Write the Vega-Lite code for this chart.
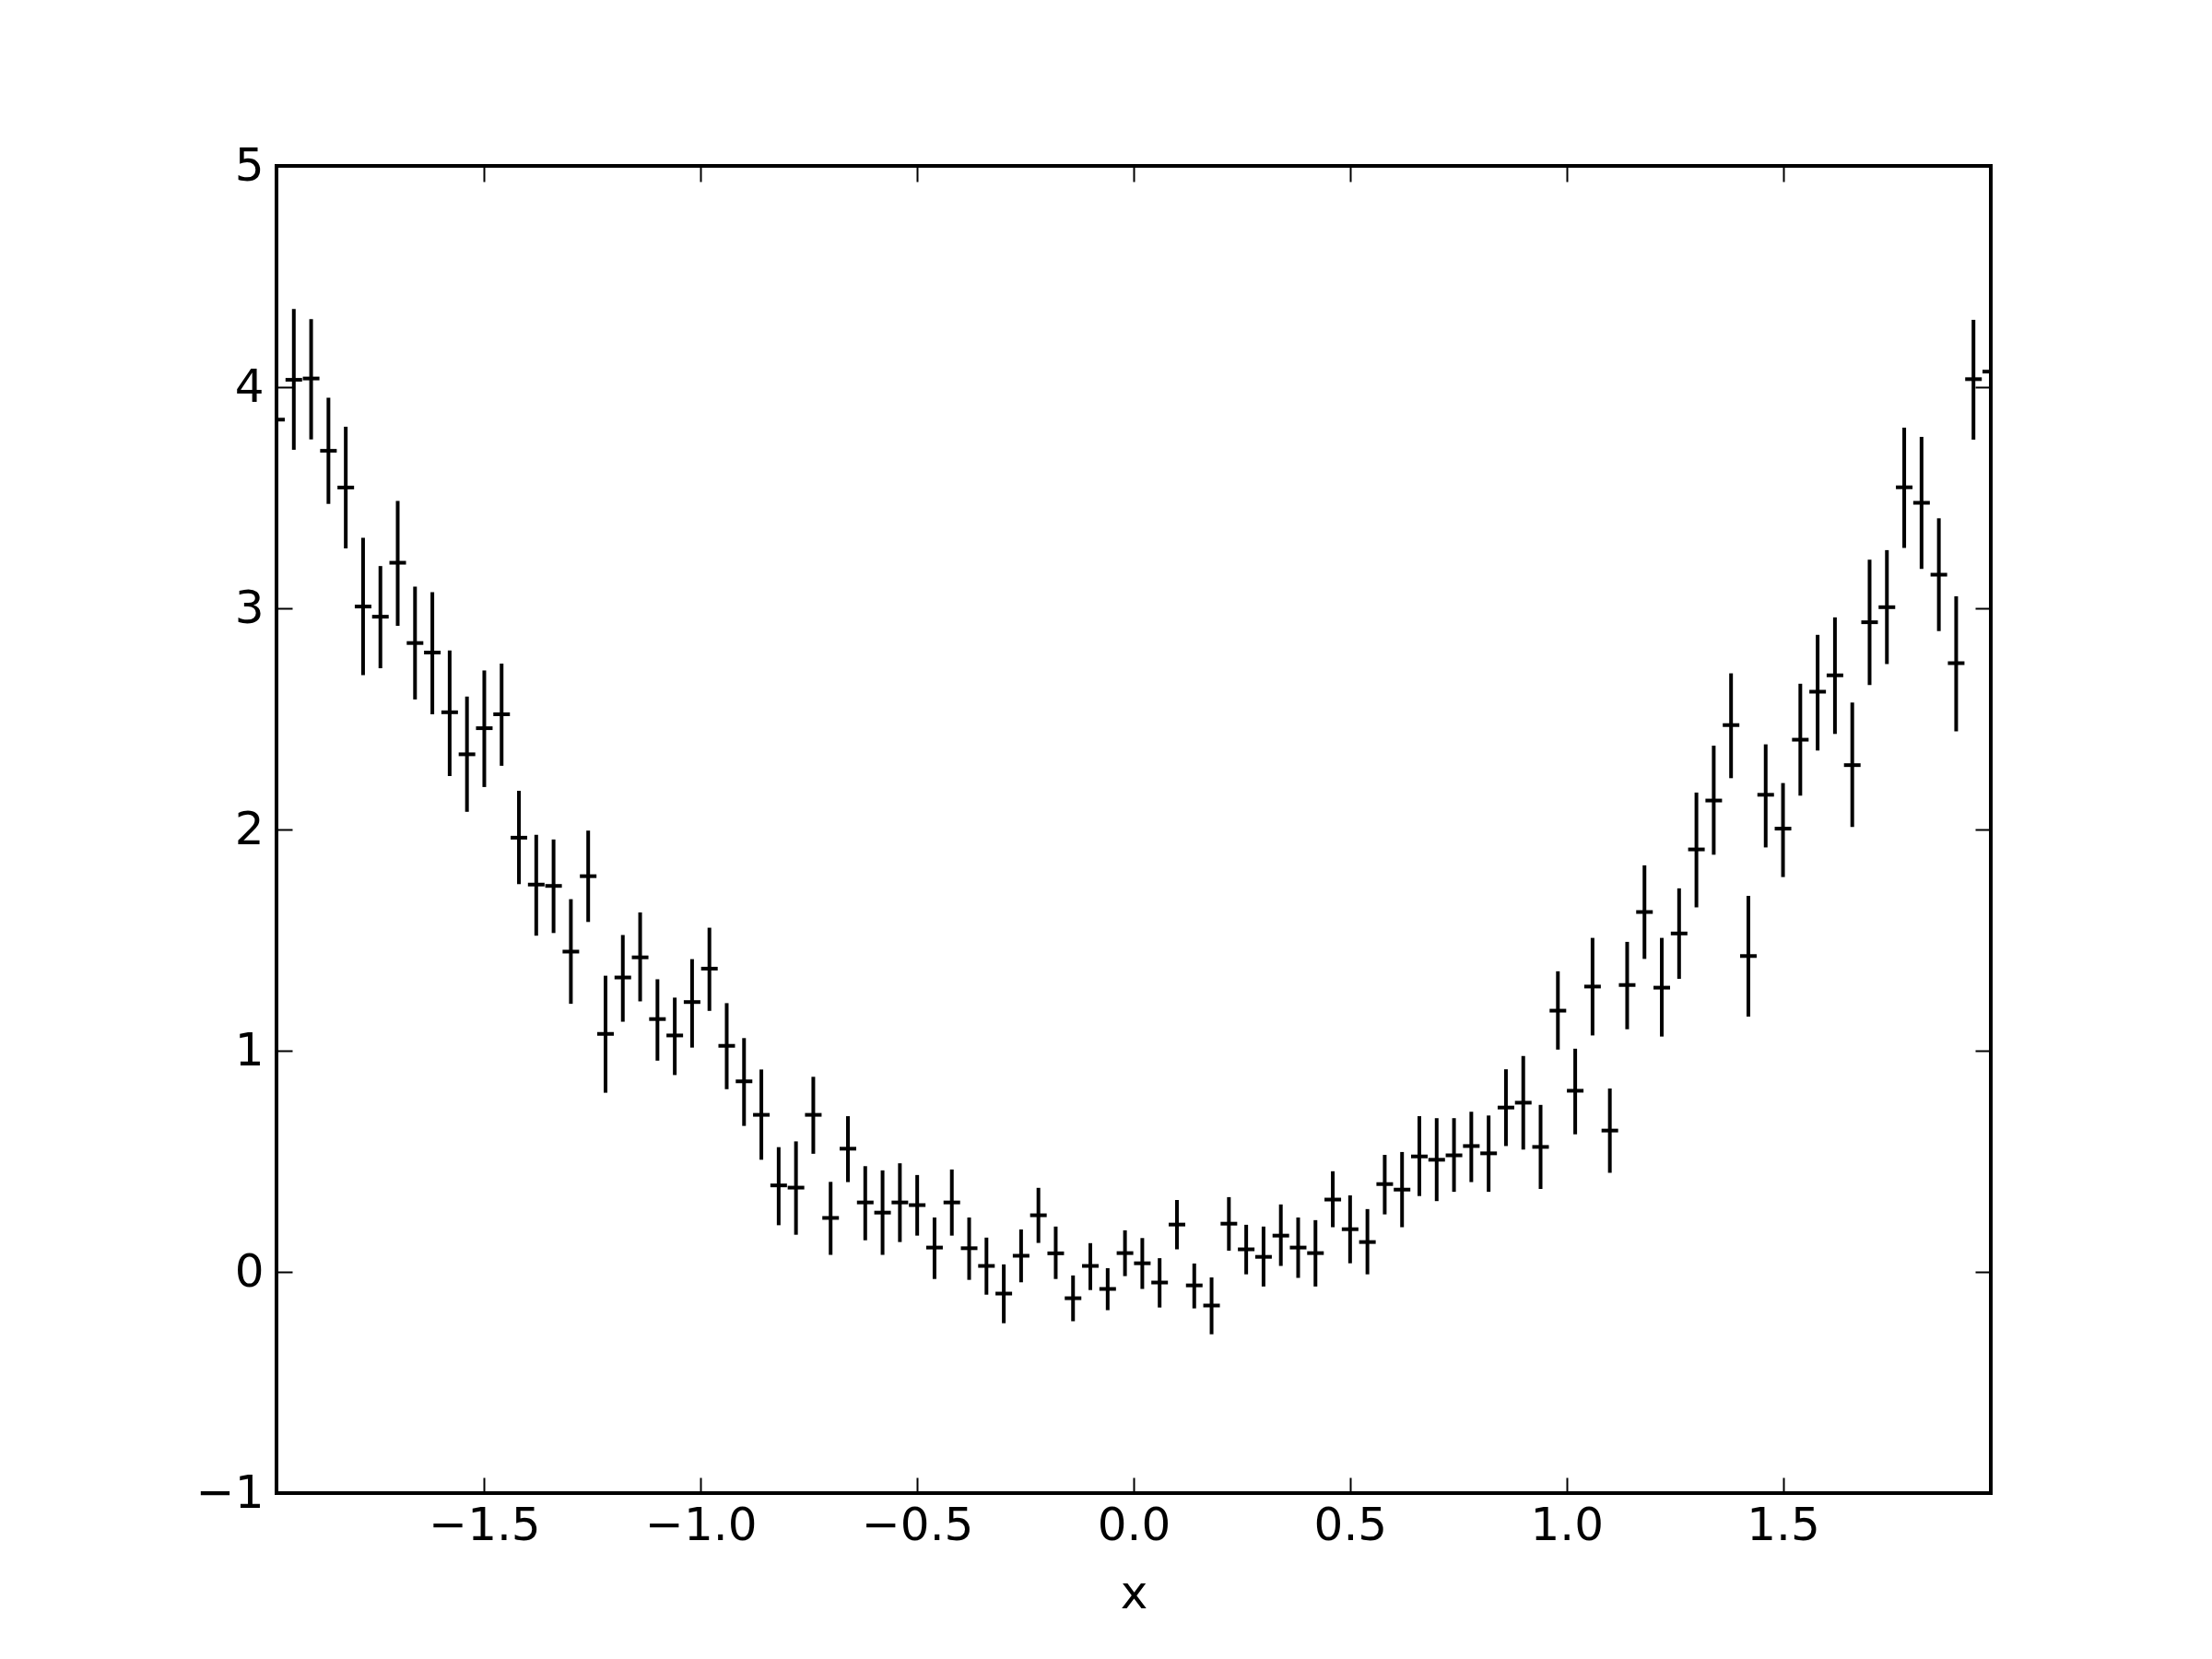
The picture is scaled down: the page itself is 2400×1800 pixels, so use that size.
{
  "$schema": "https://vega.github.io/schema/vega-lite/v6.json",
  "width": 1860,
  "height": 1440,
  "autosize": {"type": "none"},
  "padding": {"left": 300, "top": 180, "right": 240, "bottom": 180},
  "background": "white",
  "config": {
    "view": {"stroke": "black", "strokeWidth": 4},
    "axis": {"labelFont": "DejaVu Sans", "labelFontSize": 50, "labelColor": "black", "titleFont": "DejaVu Sans", "titleFontSize": 50, "titleFontWeight": "normal", "titleColor": "black", "domain": false, "grid": false, "tickColor": "black", "tickWidth": 2, "tickSize": -17}
  },
  "data": {"values": [
    {"x": -1.98, "y": 3.853, "lo": 3.55, "hi": 4.15},
    {"x": -1.94, "y": 4.033, "lo": 3.717, "hi": 4.353},
    {"x": -1.90, "y": 4.039, "lo": 3.764, "hi": 4.307},
    {"x": -1.86, "y": 3.712, "lo": 3.472, "hi": 3.952},
    {"x": -1.82, "y": 3.546, "lo": 3.271, "hi": 3.821},
    {"x": -1.78, "y": 3.008, "lo": 2.698, "hi": 3.319},
    {"x": -1.74, "y": 2.962, "lo": 2.729, "hi": 3.191},
    {"x": -1.70, "y": 3.206, "lo": 2.921, "hi": 3.485},
    {"x": -1.66, "y": 2.843, "lo": 2.588, "hi": 3.098},
    {"x": -1.62, "y": 2.800, "lo": 2.521, "hi": 3.073},
    {"x": -1.58, "y": 2.530, "lo": 2.242, "hi": 2.809},
    {"x": -1.54, "y": 2.340, "lo": 2.080, "hi": 2.601},
    {"x": -1.50, "y": 2.458, "lo": 2.192, "hi": 2.719},
    {"x": -1.46, "y": 2.521, "lo": 2.288, "hi": 2.750},
    {"x": -1.42, "y": 1.963, "lo": 1.753, "hi": 2.175},
    {"x": -1.38, "y": 1.751, "lo": 1.520, "hi": 1.976},
    {"x": -1.34, "y": 1.745, "lo": 1.532, "hi": 1.955},
    {"x": -1.30, "y": 1.448, "lo": 1.212, "hi": 1.685},
    {"x": -1.26, "y": 1.789, "lo": 1.582, "hi": 1.995},
    {"x": -1.22, "y": 1.076, "lo": 0.810, "hi": 1.339},
    {"x": -1.18, "y": 1.331, "lo": 1.131, "hi": 1.523},
    {"x": -1.14, "y": 1.422, "lo": 1.223, "hi": 1.625},
    {"x": -1.10, "y": 1.143, "lo": 0.955, "hi": 1.323},
    {"x": -1.06, "y": 1.069, "lo": 0.890, "hi": 1.240},
    {"x": -1.02, "y": 1.220, "lo": 1.014, "hi": 1.414},
    {"x": -0.98, "y": 1.371, "lo": 1.180, "hi": 1.556},
    {"x": -0.94, "y": 1.022, "lo": 0.826, "hi": 1.215},
    {"x": -0.90, "y": 0.861, "lo": 0.660, "hi": 1.057},
    {"x": -0.86, "y": 0.710, "lo": 0.507, "hi": 0.915},
    {"x": -0.82, "y": 0.391, "lo": 0.211, "hi": 0.564},
    {"x": -0.78, "y": 0.381, "lo": 0.168, "hi": 0.590},
    {"x": -0.74, "y": 0.710, "lo": 0.534, "hi": 0.882},
    {"x": -0.70, "y": 0.244, "lo": 0.077, "hi": 0.407},
    {"x": -0.66, "y": 0.557, "lo": 0.406, "hi": 0.704},
    {"x": -0.62, "y": 0.314, "lo": 0.143, "hi": 0.478},
    {"x": -0.58, "y": 0.268, "lo": 0.077, "hi": 0.459},
    {"x": -0.54, "y": 0.314, "lo": 0.135, "hi": 0.491},
    {"x": -0.50, "y": 0.302, "lo": 0.164, "hi": 0.438},
    {"x": -0.46, "y": 0.110, "lo": -0.032, "hi": 0.246},
    {"x": -0.42, "y": 0.314, "lo": 0.164, "hi": 0.463},
    {"x": -0.38, "y": 0.107, "lo": -0.036, "hi": 0.246},
    {"x": -0.34, "y": 0.027, "lo": -0.103, "hi": 0.155},
    {"x": -0.30, "y": -0.098, "lo": -0.232, "hi": 0.034},
    {"x": -0.26, "y": 0.073, "lo": -0.047, "hi": 0.192},
    {"x": -0.22, "y": 0.256, "lo": 0.131, "hi": 0.380},
    {"x": -0.18, "y": 0.084, "lo": -0.032, "hi": 0.205},
    {"x": -0.14, "y": -0.119, "lo": -0.223, "hi": -0.016},
    {"x": -0.10, "y": 0.027, "lo": -0.082, "hi": 0.130},
    {"x": -0.06, "y": -0.077, "lo": -0.173, "hi": 0.017},
    {"x": -0.02, "y": 0.085, "lo": -0.019, "hi": 0.188},
    {"x": 0.02, "y": 0.039, "lo": -0.077, "hi": 0.153},
    {"x": 0.06, "y": -0.048, "lo": -0.161, "hi": 0.062},
    {"x": 0.10, "y": 0.214, "lo": 0.102, "hi": 0.325},
    {"x": 0.14, "y": -0.061, "lo": -0.165, "hi": 0.038},
    {"x": 0.18, "y": -0.152, "lo": -0.282, "hi": -0.025},
    {"x": 0.22, "y": 0.218, "lo": 0.096, "hi": 0.338},
    {"x": 0.26, "y": 0.102, "lo": -0.011, "hi": 0.213},
    {"x": 0.30, "y": 0.068, "lo": -0.066, "hi": 0.205},
    {"x": 0.34, "y": 0.164, "lo": 0.027, "hi": 0.305},
    {"x": 0.38, "y": 0.110, "lo": -0.027, "hi": 0.246},
    {"x": 0.42, "y": 0.085, "lo": -0.066, "hi": 0.234},
    {"x": 0.46, "y": 0.327, "lo": 0.202, "hi": 0.455},
    {"x": 0.50, "y": 0.193, "lo": 0.039, "hi": 0.346},
    {"x": 0.54, "y": 0.135, "lo": -0.011, "hi": 0.284},
    {"x": 0.58, "y": 0.397, "lo": 0.260, "hi": 0.529},
    {"x": 0.62, "y": 0.372, "lo": 0.202, "hi": 0.542},
    {"x": 0.66, "y": 0.522, "lo": 0.343, "hi": 0.704},
    {"x": 0.70, "y": 0.507, "lo": 0.320, "hi": 0.695},
    {"x": 0.74, "y": 0.527, "lo": 0.362, "hi": 0.695},
    {"x": 0.78, "y": 0.569, "lo": 0.406, "hi": 0.724},
    {"x": 0.82, "y": 0.536, "lo": 0.362, "hi": 0.707},
    {"x": 0.86, "y": 0.743, "lo": 0.569, "hi": 0.916},
    {"x": 0.90, "y": 0.765, "lo": 0.553, "hi": 0.976},
    {"x": 0.94, "y": 0.565, "lo": 0.375, "hi": 0.755},
    {"x": 0.98, "y": 1.181, "lo": 1.005, "hi": 1.359},
    {"x": 1.02, "y": 0.819, "lo": 0.622, "hi": 1.009},
    {"x": 1.06, "y": 1.290, "lo": 1.069, "hi": 1.510},
    {"x": 1.10, "y": 0.639, "lo": 0.448, "hi": 0.829},
    {"x": 1.14, "y": 1.297, "lo": 1.097, "hi": 1.492},
    {"x": 1.18, "y": 1.627, "lo": 1.415, "hi": 1.838},
    {"x": 1.22, "y": 1.285, "lo": 1.064, "hi": 1.510},
    {"x": 1.26, "y": 1.530, "lo": 1.325, "hi": 1.734},
    {"x": 1.30, "y": 1.910, "lo": 1.648, "hi": 2.167},
    {"x": 1.34, "y": 2.131, "lo": 1.886, "hi": 2.379},
    {"x": 1.38, "y": 2.472, "lo": 2.232, "hi": 2.706},
    {"x": 1.42, "y": 1.428, "lo": 1.154, "hi": 1.700},
    {"x": 1.46, "y": 2.157, "lo": 1.919, "hi": 2.385},
    {"x": 1.50, "y": 2.004, "lo": 1.785, "hi": 2.210},
    {"x": 1.54, "y": 2.406, "lo": 2.153, "hi": 2.659},
    {"x": 1.58, "y": 2.623, "lo": 2.357, "hi": 2.880},
    {"x": 1.62, "y": 2.697, "lo": 2.432, "hi": 2.959},
    {"x": 1.66, "y": 2.291, "lo": 2.011, "hi": 2.574},
    {"x": 1.70, "y": 2.937, "lo": 2.653, "hi": 3.220},
    {"x": 1.74, "y": 3.005, "lo": 2.748, "hi": 3.263},
    {"x": 1.78, "y": 3.547, "lo": 3.273, "hi": 3.817},
    {"x": 1.82, "y": 3.477, "lo": 3.178, "hi": 3.775},
    {"x": 1.86, "y": 3.152, "lo": 2.897, "hi": 3.407},
    {"x": 1.90, "y": 2.752, "lo": 2.444, "hi": 3.054},
    {"x": 1.94, "y": 4.036, "lo": 3.762, "hi": 4.304},
    {"x": 1.98, "y": 4.070, "lo": 3.770, "hi": 4.370}
  ]},
  "layer": [
    {
      "mark": {"type": "rule", "color": "black", "strokeWidth": 4, "clip": true},
      "encoding": {
        "x": {"field": "x", "type": "quantitative", "scale": {"domain": [-1.98, 1.98], "nice": false, "zero": false},
          "axis": {"orient": "bottom", "values": [-1.5, -1, -0.5, 0, 0.5, 1, 1.5], "format": ".1f", "labelPadding": 27, "title": "x", "titlePadding": 24}},
        "y": {"field": "lo", "type": "quantitative", "scale": {"domain": [-1, 5], "nice": false, "zero": false},
          "axis": {"orient": "left", "values": [-1, 0, 1, 2, 3, 4, 5], "format": "d", "labelPadding": 31, "title": null}},
        "y2": {"field": "hi"}
      }
    },
    {
      "mark": {"type": "tick", "orient": "horizontal", "color": "black", "size": 18, "thickness": 4, "opacity": 1, "clip": true},
      "encoding": {
        "x": {"field": "x", "type": "quantitative",
          "axis": {"orient": "top", "values": [-1.5, -1, -0.5, 0, 0.5, 1, 1.5], "labels": false, "title": null}},
        "y": {"field": "y", "type": "quantitative",
          "axis": {"orient": "right", "values": [-1, 0, 1, 2, 3, 4, 5], "labels": false, "title": null}}
      }
    }
  ],
  "resolve": {"axis": {"x": "independent", "y": "independent"}}
}
